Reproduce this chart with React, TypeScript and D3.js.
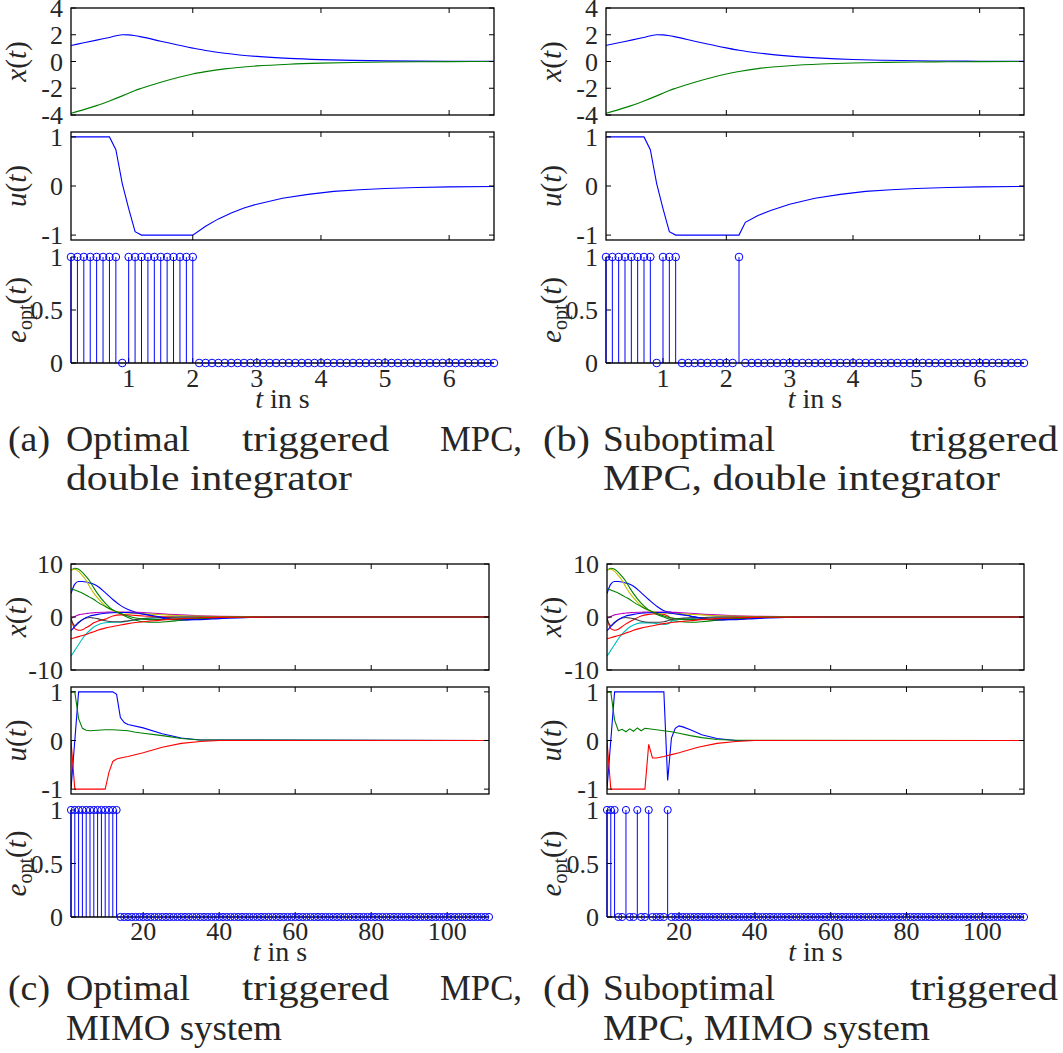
import React from "react";
import * as d3 from "d3";

// ---------------- data ----------------
// sample grids
const tTop = d3.range(1, 68).map((i) => i / 10); // 0.1 .. 6.7 s
const tBot = d3.range(1, 112); // 1 .. 111 s

// triggering instants (e_opt = 1)
const eOnA = [0.1, 0.2, 0.3, 0.4, 0.5, 0.6, 0.7, 0.8, 1.0, 1.1, 1.2, 1.3, 1.4, 1.5, 1.6, 1.7, 1.8, 1.9, 2.0];
const eOnB = [0.1, 0.2, 0.3, 0.4, 0.5, 0.6, 0.7, 0.8, 1.0, 1.1, 1.2, 2.2];
const eOnC = [1, 2, 3, 4, 5, 6, 7, 8, 9, 10, 11, 12, 13];
const eOnD = [1, 2, 3, 6, 9, 12, 17];

// (a)/(b) states
const tX = [0.1, 0.3, 0.5, 0.7, 0.9, 1.0, 1.1, 1.2, 1.5, 2.0, 2.2, 2.5, 3.0, 3.5, 4.0, 4.5, 5.0, 5.5, 6.0, 6.7];
const xA1 = [1.2, 1.4, 1.6, 1.8, 2.0, 1.99, 1.93, 1.84, 1.52, 1.0, 0.82, 0.62, 0.38, 0.23, 0.14, 0.085, 0.05, 0.03, 0.02, 0.01];
const xA2 = [-3.87, -3.6, -3.3, -2.95, -2.57, -2.37, -2.17, -2.0, -1.55, -0.93, -0.76, -0.55, -0.33, -0.2, -0.12, -0.07, -0.04, -0.02, -0.01, 0];
const xB1 = [1.2, 1.4, 1.6, 1.8, 2.0, 1.99, 1.93, 1.84, 1.52, 1.02, 0.84, 0.64, 0.4, 0.25, 0.15, 0.09, 0.055, 0.033, 0.02, 0.01];
const xB2 = [-3.87, -3.6, -3.3, -2.95, -2.57, -2.37, -2.17, -2.0, -1.55, -0.93, -0.75, -0.53, -0.32, -0.19, -0.11, -0.065, -0.04, -0.02, -0.01, 0];

// (a)/(b) inputs
const tUA = [0.1, 0.7, 0.8, 0.9, 1.0, 1.1, 1.2, 2.0, 2.2, 2.4, 2.6, 2.8, 3.0, 3.4, 3.8, 4.2, 4.6, 5.0, 5.5, 6.0, 6.7];
const uA = [1, 1, 0.74, 0.05, -0.46, -0.93, -1, -1, -0.82, -0.67, -0.55, -0.45, -0.37, -0.25, -0.17, -0.11, -0.075, -0.05, -0.03, -0.018, -0.01];
const tUB = [0.1, 0.7, 0.8, 0.9, 1.0, 1.1, 1.2, 2.2, 2.3, 2.5, 2.7, 3.0, 3.4, 3.8, 4.2, 4.6, 5.0, 5.5, 6.0, 6.7];
const uB = [1, 1, 0.74, 0.05, -0.46, -0.93, -1, -1, -0.74, -0.6, -0.5, -0.37, -0.25, -0.17, -0.11, -0.075, -0.05, -0.03, -0.018, -0.01];

// (c) states
const tC = [1, 2, 3, 4, 5, 6, 7, 8, 10, 12, 14, 16, 18, 20, 23, 26, 30, 35, 40, 50, 60, 111];
const xC1 = [4.4, 6.2, 6.7, 6.7, 6.6, 6.4, 6.2, 5.8, 4.6, 3.3, 2.2, 1.4, 0.9, 0.6, 0.1, -0.35, -0.55, -0.4, -0.2, -0.05, 0, 0];
const xC2 = [8.8, 9.2, 9.0, 8.4, 7.6, 6.7, 5.5, 4.4, 2.6, 1.3, 0.6, -0.1, -0.6, -0.9, -1.0, -0.9, -0.6, -0.3, -0.1, 0, 0, 0];
const xC3 = [-0.3, -2.2, -2.5, -2.4, -2.0, -1.6, -1.1, -0.8, -0.4, 0.2, 0.4, 0.4, 0.3, 0.2, 0.1, 0.05, 0, 0, 0, 0, 0, 0];
const xC4 = [-7.4, -6.3, -5.2, -4.1, -3.2, -2.5, -1.9, -1.5, -1.1, -1.0, -1.0, -0.8, -0.5, -0.35, -0.2, -0.1, -0.05, 0, 0, 0, 0, 0];
const xC5 = [-0.3, 0.1, 0.4, 0.55, 0.65, 0.75, 0.8, 0.85, 0.9, 0.95, 0.95, 0.95, 0.9, 0.85, 0.7, 0.55, 0.4, 0.25, 0.15, 0.05, 0, 0];
const xC6 = [8.8, 9.0, 8.6, 7.8, 6.9, 5.6, 4.5, 3.6, 2.1, 1.2, 0.9, 0.75, 0.65, 0.6, 0.5, 0.4, 0.25, 0.15, 0.08, 0.02, 0, 0];
const xC7 = [-0.3, -1.6, -1.0, -0.5, -0.2, -0.1, -0.2, -0.3, -0.7, -0.9, -0.9, -0.7, -0.5, -0.3, -0.15, -0.1, 0, 0, 0, 0, 0, 0];
const xC8 = [-2.6, -1.8, -1.1, -0.5, -0.1, 0.2, 0.35, 0.5, 0.7, 0.8, 0.85, 0.85, 0.75, 0.55, 0.2, -0.2, -0.5, -0.5, -0.3, -0.05, 0, 0];
const xC9 = [5.3, 5.1, 4.8, 4.5, 4.1, 3.7, 3.3, 2.8, 2.0, 1.3, 0.7, 0.2, -0.2, -0.4, -0.5, -0.45, -0.35, -0.2, -0.1, 0, 0, 0];
const xC10 = [-4.1, -3.9, -3.7, -3.5, -3.3, -3.0, -2.8, -2.5, -2.1, -1.8, -1.5, -1.25, -1.05, -0.9, -0.7, -0.5, -0.3, -0.15, -0.07, -0.02, 0, 0];

// (d) states
const tD = [1, 2, 3, 4, 5, 6, 7, 8, 10, 12, 14, 16, 17, 18, 20, 23, 26, 30, 35, 40, 50, 60, 111];
const xD1 = [4.4, 6.2, 6.7, 6.7, 6.6, 6.4, 6.2, 5.8, 4.6, 3.3, 2.1, 1.2, 1.0, 0.9, 0.7, 0.2, -0.3, -0.55, -0.4, -0.2, -0.05, 0, 0];
const xD2 = [8.8, 9.2, 9.0, 8.4, 7.6, 6.7, 5.5, 4.4, 2.6, 1.3, 0.5, 0.0, -0.3, -0.55, -0.85, -1.0, -0.9, -0.6, -0.3, -0.1, 0, 0, 0];
const xD3 = [-0.3, -2.2, -2.5, -2.3, -1.8, -1.3, -0.9, -0.5, 0.2, 0.5, 0.6, 0.5, 0.2, -0.2, -0.3, -0.25, -0.15, -0.05, 0, 0, 0, 0, 0];
const xD4 = [-7.4, -6.3, -5.2, -4.1, -3.2, -2.5, -1.9, -1.5, -1.1, -1.1, -1.25, -1.4, -1.3, -0.8, -0.45, -0.25, -0.15, -0.05, 0, 0, 0, 0, 0];
const xD5 = [-0.3, 0.1, 0.4, 0.55, 0.65, 0.75, 0.8, 0.85, 0.9, 0.95, 0.95, 0.95, 0.95, 0.9, 0.85, 0.7, 0.55, 0.4, 0.25, 0.15, 0.05, 0, 0];
const xD6 = [8.8, 9.0, 8.6, 7.8, 6.9, 5.6, 4.5, 3.6, 2.1, 1.2, 0.9, 0.75, 0.7, 0.65, 0.6, 0.5, 0.4, 0.25, 0.15, 0.08, 0.02, 0, 0];
const xD7 = [-0.3, -1.6, -1.0, -0.5, -0.2, -0.1, -0.2, -0.3, -0.8, -1.0, -1.0, -0.9, -0.7, -0.5, -0.3, -0.15, -0.1, 0, 0, 0, 0, 0, 0];
const xD8 = [-2.6, -1.8, -1.1, -0.5, -0.1, 0.2, 0.35, 0.5, 0.7, 0.8, 0.85, 0.85, 0.8, 0.7, 0.5, 0.15, -0.2, -0.5, -0.5, -0.3, -0.05, 0, 0];
const xD9 = [5.3, 5.1, 4.8, 4.5, 4.1, 3.7, 3.3, 2.8, 2.0, 1.3, 0.7, 0.2, 0.0, -0.2, -0.4, -0.5, -0.45, -0.35, -0.2, -0.1, 0, 0, 0];
const xD10 = [-4.1, -3.9, -3.7, -3.5, -3.3, -3.0, -2.8, -2.5, -2.1, -1.8, -1.5, -1.25, -1.15, -1.05, -0.9, -0.7, -0.5, -0.3, -0.15, -0.07, -0.02, 0, 0];

// (c) inputs
const tUC1 = [1, 2, 3, 12, 13, 14, 15, 16, 20, 25, 30, 35, 111];
const uC1 = [-1, 0, 1, 1, 0.95, 0.47, 0.37, 0.33, 0.26, 0.14, 0.05, 0.01, 0];
const tUC2 = [1, 2, 3, 4, 5, 6, 8, 10, 12, 14, 16, 18, 20, 23, 26, 30, 35, 111];
const uC2 = [1, 1, 0.45, 0.25, 0.21, 0.2, 0.21, 0.22, 0.22, 0.21, 0.2, 0.17, 0.15, 0.12, 0.09, 0.04, 0.01, 0];
const tUC3 = [1, 2, 10, 11, 12, 13, 14, 16, 20, 25, 30, 35, 40, 111];
const uC3 = [0, -1, -1, -0.65, -0.43, -0.38, -0.36, -0.33, -0.25, -0.14, -0.06, -0.02, 0, 0];

// (d) inputs
const tUD1 = [1, 2, 3, 16, 17, 18, 19, 20, 21, 23, 26, 30, 35, 111];
const uD1 = [-1, 0, 1, 1, -0.82, 0.05, 0.25, 0.3, 0.28, 0.22, 0.12, 0.04, 0, 0];
const tUD2 = [1, 2, 3, 4, 5, 6, 7, 8, 9, 10, 11, 12, 14, 16, 18, 20, 23, 26, 30, 35, 111];
const uD2 = [1, 1, 0.42, 0.2, 0.23, 0.18, 0.24, 0.19, 0.26, 0.2, 0.25, 0.24, 0.22, 0.2, 0.18, 0.15, 0.1, 0.06, 0.02, 0.005, 0];
const tUD3 = [1, 2, 11, 12, 13, 14, 16, 18, 20, 25, 30, 35, 40, 111];
const uD3 = [0, -1, -1, -0.08, -0.36, -0.36, -0.33, -0.29, -0.25, -0.14, -0.06, -0.02, 0, 0];

// ticks
const ticksTopMarks = [2, 4, 6];
const ticksTopLabels = [1, 2, 3, 4, 5, 6];
const ticksBot = [20, 40, 60, 80, 100];
const yTicksXTop = [-4, -2, 0, 2, 4];
const yTicksXBot = [-10, 0, 10];
const yTicksU = [-1, 0, 1];
const yTicksE = [0, 0.5, 1];

// colors (MATLAB order)
const COLORS = ["#0000ff", "#008000", "#ff0000", "#00bfbf", "#bf00bf", "#bfbf00", "#404040"];

const FONT = "Liberation Serif, Times New Roman, Times, serif";
const TXT = "#262626";

type Series = { t: number[]; v: number[]; color: string; smooth?: boolean };

function YLabel({ x, y, kind }: { x: number; y: number; kind: "x" | "u" | "e" }) {
  const fs = 29;
  return (
    <text
      transform={`translate(${x},${y}) rotate(-90)`}
      textAnchor="middle"
      fontFamily={FONT}
      fontSize={fs}
      fill={TXT}
    >
      {kind === "e" ? (
        <>
          <tspan fontStyle="italic">e</tspan>
          <tspan fontSize={20} dy={6}>opt</tspan>
          <tspan dy={-6}>(</tspan>
          <tspan fontStyle="italic">t</tspan>
          <tspan>)</tspan>
        </>
      ) : (
        <>
          <tspan fontStyle="italic">{kind}</tspan>
          <tspan>(</tspan>
          <tspan fontStyle="italic">t</tspan>
          <tspan>)</tspan>
        </>
      )}
    </text>
  );
}

let clipId = 0;

function LinePanel(props: {
  x0: number; x1: number; y0: number; y1: number;
  xDomain: [number, number]; yDomain: [number, number];
  xTicks: number[]; yTicks: number[]; series: Series[];
  labelX: number; kind: "x" | "u";
}) {
  const { x0, x1, y0, y1, xDomain, yDomain, xTicks, yTicks, series, labelX, kind } = props;
  const xs = d3.scaleLinear().domain(xDomain).range([x0, x1]);
  const ys = d3.scaleLinear().domain(yDomain).range([y1, y0]);
  const id = `clip${clipId++}`;
  const tl = 5;
  return (
    <g>
      <defs>
        <clipPath id={id}>
          <rect x={x0} y={y0} width={x1 - x0} height={y1 - y0} />
        </clipPath>
      </defs>
      <g clipPath={`url(#${id})`}>
        {series.map((s, i) => {
          const pts = s.t.map((t, j) => [t, s.v[j]] as [number, number]);
          const line = d3
            .line<[number, number]>()
            .x((d) => xs(d[0]))
            .y((d) => ys(d[1]))
            .curve(s.smooth ? d3.curveMonotoneX : d3.curveLinear);
          return <path key={i} d={line(pts) || ""} fill="none" stroke={s.color} strokeWidth={1.1} />;
        })}
      </g>
      <rect x={x0} y={y0} width={x1 - x0} height={y1 - y0} fill="none" stroke="#000" strokeWidth={1.3} />
      {xTicks.map((t) => (
        <g key={"xt" + t}>
          <line x1={xs(t)} x2={xs(t)} y1={y1} y2={y1 - tl} stroke="#000" strokeWidth={1} />
          <line x1={xs(t)} x2={xs(t)} y1={y0} y2={y0 + tl} stroke="#000" strokeWidth={1} />
        </g>
      ))}
      {yTicks.map((v) => (
        <g key={"yt" + v}>
          <line x1={x0} x2={x0 + tl} y1={ys(v)} y2={ys(v)} stroke="#000" strokeWidth={1} />
          <line x1={x1} x2={x1 - tl} y1={ys(v)} y2={ys(v)} stroke="#000" strokeWidth={1} />
          <text x={x0 - 8} y={ys(v)} dy="0.35em" textAnchor="end" fontFamily={FONT} fontSize={26} fill={TXT}>
            {String(v)}
          </text>
        </g>
      ))}
      <YLabel x={labelX} y={(y0 + y1) / 2} kind={kind} />
    </g>
  );
}

function StemPanel(props: {
  x0: number; x1: number; yOne: number; yZero: number;
  xDomain: [number, number]; times: number[]; on: number[];
  xTicks: number[]; labelX: number; tickLabelY: number; axisLabelY: number; r: number;
}) {
  const { x0, x1, yOne, yZero, xDomain, times, on, xTicks, labelX, tickLabelY, axisLabelY, r } = props;
  const xs = d3.scaleLinear().domain(xDomain).range([x0, x1]);
  const ys = d3.scaleLinear().domain([0, 1]).range([yZero, yOne]);
  const vals = times.map((t) => (on.some((o) => Math.abs(o - t) < 1e-6) ? 1 : 0));
  const tl = 5;
  return (
    <g>
      <line x1={x0} x2={x0} y1={ys(0)} y2={ys(1)} stroke="#000" strokeWidth={1.3} />
      {yTicksE.map((v) => (
        <g key={"ye" + v}>
          <line x1={x0} x2={x0 + tl} y1={ys(v)} y2={ys(v)} stroke="#000" strokeWidth={1} />
          <text x={x0 - 8} y={ys(v)} dy="0.35em" textAnchor="end" fontFamily={FONT} fontSize={26} fill={TXT}>
            {String(v)}
          </text>
        </g>
      ))}
      {xTicks.map((t) => (
        <g key={"xe" + t}>
          <line x1={xs(t)} x2={xs(t)} y1={ys(0)} y2={ys(0) - tl} stroke="#000" strokeWidth={1} />
          <text x={xs(t)} y={tickLabelY} textAnchor="middle" fontFamily={FONT} fontSize={26} fill={TXT}>
            {String(t)}
          </text>
        </g>
      ))}
      {times.map((t, i) =>
        vals[i] > 0 ? (
          <line key={"s" + i} x1={xs(t)} x2={xs(t)} y1={ys(0)} y2={ys(vals[i])} stroke="#0000ff" strokeWidth={1} />
        ) : null
      )}
      <line x1={x0} x2={x1} y1={ys(0)} y2={ys(0)} stroke="#000" strokeWidth={1.3} />
      {times.map((t, i) => (
        <circle key={"c" + i} cx={xs(t)} cy={ys(vals[i])} r={r} fill="none" stroke="#0000ff" strokeWidth={1} />
      ))}
      <text x={(x0 + x1) / 2} y={axisLabelY} textAnchor="middle" fontFamily={FONT} fontSize={28} fill={TXT}>
        <tspan fontStyle="italic">t</tspan> in s
      </text>
      <YLabel x={labelX} y={(yOne + yZero) / 2} kind="e" />
    </g>
  );
}

function Caption({ words, y }: { words: { s: string; x: number; w: number }[]; y: number }) {
  return (
    <g>
      {words.map((w, i) => (
        <text
          key={i}
          x={w.x}
          y={y}
          fontFamily={FONT}
          fontSize={35}
          fill={TXT}
          textLength={w.w}
          lengthAdjust="spacingAndGlyphs"
        >
          {w.s}
        </text>
      ))}
    </g>
  );
}

const mk = (t: number[], rows: number[][]): Series[] =>
  rows.map((v, i) => ({ t, v, color: COLORS[i % COLORS.length], smooth: true }));

export default function App() {
  clipId = 0;
  const colA: [number, number] = [71, 494];
  const colB: [number, number] = [606, 1024];
  const colC: [number, number] = [71, 489];
  const colD: [number, number] = [607, 1024];
  const topDom: [number, number] = [0.1, 6.7];
  const botDom: [number, number] = [1, 111];

  const xsA = mk(tX, [xA1, xA2]);
  const xsB = mk(tX, [xB1, xB2]);
  const xsC = mk(tC, [xC1, xC2, xC3, xC4, xC5, xC6, xC7, xC8, xC9, xC10]);
  const xsD = mk(tD, [xD1, xD2, xD3, xD4, xD5, xD6, xD7, xD8, xD9, xD10]);

  const usA: Series[] = [{ t: tUA, v: uA, color: COLORS[0] }];
  const usB: Series[] = [{ t: tUB, v: uB, color: COLORS[0] }];
  const usC: Series[] = [
    { t: tUC1, v: uC1, color: COLORS[0] },
    { t: tUC2, v: uC2, color: COLORS[1] },
    { t: tUC3, v: uC3, color: COLORS[2] },
  ];
  const usD: Series[] = [
    { t: tUD1, v: uD1, color: COLORS[0] },
    { t: tUD2, v: uD2, color: COLORS[1] },
    { t: tUD3, v: uD3, color: COLORS[2] },
  ];

  const col = (
    c: [number, number], dom: [number, number], xs: Series[], us: Series[], times: number[], on: number[],
    marks: number[], labels: number[], labelX: number, top: boolean, r: number
  ) => (
    <g>
      <LinePanel x0={c[0]} x1={c[1]} y0={top ? 8 : 564} y1={top ? 115 : 670} xDomain={dom}
        yDomain={top ? [-4, 4] : [-10, 10]} xTicks={marks} yTicks={top ? yTicksXTop : yTicksXBot}
        series={xs} labelX={labelX} kind="x" />
      <LinePanel x0={c[0]} x1={c[1]} y0={top ? 132 : 687} y1={top ? 240 : 794} xDomain={dom}
        yDomain={[-1.1, 1.1]} xTicks={marks} yTicks={yTicksU} series={us} labelX={labelX} kind="u" />
      <StemPanel x0={c[0]} x1={c[1]} yOne={top ? 257 : 810} yZero={top ? 363 : 917} xDomain={dom}
        times={times} on={on} xTicks={labels} labelX={labelX}
        tickLabelY={top ? 387 : 940} axisLabelY={top ? 408 : 961} r={r} />
    </g>
  );

  return (
    <svg width={1063} height={1053} style={{ position: "absolute", left: 0, top: 0, background: "#fff" }}>
      <rect x={0} y={0} width={1063} height={1053} fill="#fff" />
      {col(colA, topDom, xsA, usA, tTop, eOnA, ticksTopMarks, ticksTopLabels, 26, true, 3.8)}
      {col(colB, topDom, xsB, usB, tTop, eOnB, ticksTopMarks, ticksTopLabels, 561, true, 3.8)}
      {col(colC, botDom, xsC, usC, tBot, eOnC, ticksBot, ticksBot, 26, false, 3.6)}
      {col(colD, botDom, xsD, usD, tBot, eOnD, ticksBot, ticksBot, 561, false, 3.6)}

      <Caption y={451} words={[
        { s: "(a)", x: 8, w: 42 }, { s: "Optimal", x: 66, w: 124 },
        { s: "triggered", x: 242, w: 147 }, { s: "MPC,", x: 440, w: 82 }]} />
      <Caption y={490} words={[{ s: "double integrator", x: 66, w: 286 }]} />
      <Caption y={451} words={[
        { s: "(b)", x: 543, w: 47 }, { s: "Suboptimal", x: 603, w: 172 },
        { s: "triggered", x: 910, w: 148 }]} />
      <Caption y={490} words={[{ s: "MPC, double integrator", x: 603, w: 397 }]} />

      <Caption y={1000} words={[
        { s: "(c)", x: 8, w: 42 }, { s: "Optimal", x: 66, w: 124 },
        { s: "triggered", x: 242, w: 147 }, { s: "MPC,", x: 440, w: 82 }]} />
      <Caption y={1040} words={[{ s: "MIMO system", x: 66, w: 216 }]} />
      <Caption y={1000} words={[
        { s: "(d)", x: 543, w: 47 }, { s: "Suboptimal", x: 603, w: 172 },
        { s: "triggered", x: 910, w: 148 }]} />
      <Caption y={1040} words={[{ s: "MPC, MIMO system", x: 603, w: 327 }]} />
    </svg>
  );
}
